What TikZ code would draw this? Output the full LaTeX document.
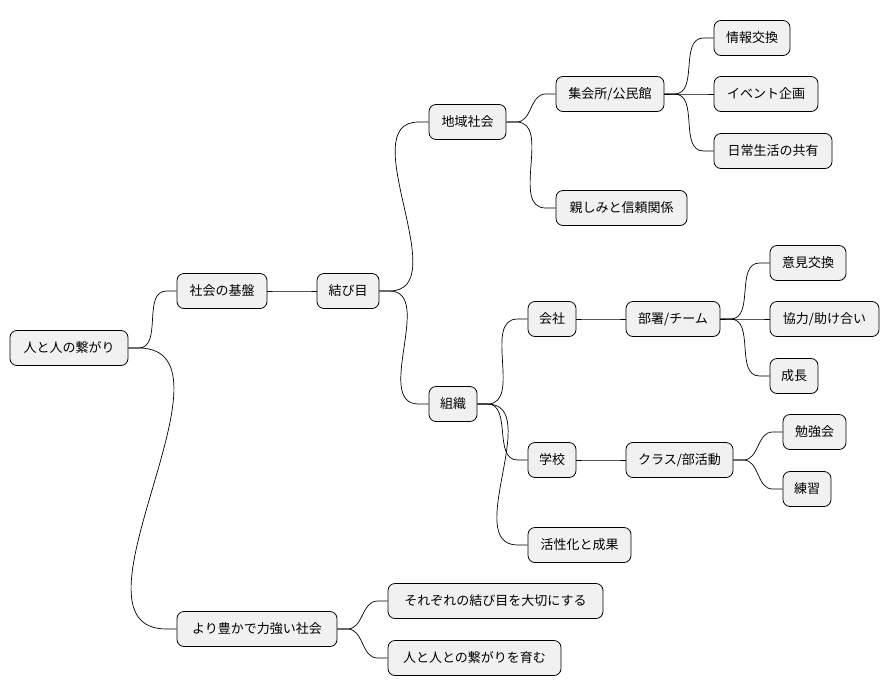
\documentclass[tikz,border=0pt]{standalone}
\usepackage{fontspec}
\setmainfont{Noto Sans CJK JP}
\usetikzlibrary{calc}
\tikzset{
  mm/.style={draw=black, line width=0.8pt, fill={rgb,255:red,241;green,241;blue,241}, rounded corners=7pt, minimum height=35pt, inner xsep=0pt, font=\fontsize{13}{15}\selectfont, anchor=center},
  ln/.style={line width=0.7pt}
}
\newcommand{\mmn}[5]{\node[mm, minimum width=#4pt] (#1) at (#2,#3) {#5};}
\newcommand{\lk}[2]{\draw[ln] (#1.east) -- ++(10pt,0) to[out=0,in=180] ($(#2.west)+(-10pt,0)$) -- (#2.west);}
\begin{document}
\begin{tikzpicture}[x=1pt,y=-1pt]
\useasboundingbox (0,0) rectangle (890,696);
\mmn{a}{69}{348}{118}{人と人の繋がり}
\mmn{b}{222}{291}{90}{社会の基盤}
\mmn{c}{348}{291}{62}{結び目}
\mmn{d}{467.5}{122}{77}{地域社会}
\mmn{e}{610}{94}{108}{集会所/公民館}
\mmn{f}{752}{38}{76}{情報交換}
\mmn{g}{766}{94}{104}{イベント企画}
\mmn{h}{773}{151}{118}{日常生活の共有}
\mmn{i}{621.5}{208}{131}{親しみと信頼関係}
\mmn{j}{453}{404}{48}{組織}
\mmn{k}{552}{319}{48}{会社}
\mmn{l}{673}{319}{94}{部署/チーム}
\mmn{m}{808}{263}{76}{意見交換}
\mmn{n}{824.5}{319}{109}{協力/助け合い}
\mmn{o}{794}{376}{48}{成長}
\mmn{p}{552}{460}{48}{学校}
\mmn{q}{679.5}{460}{107}{クラス/部活動}
\mmn{r}{814.5}{432}{63}{勉強会}
\mmn{s}{807}{489}{48}{練習}
\mmn{t}{579.5}{545}{103}{活性化と成果}
\mmn{u}{257}{629}{160}{より豊かで力強い社会}
\mmn{v}{495.5}{601}{215}{それぞれの結び目を大切にする}
\mmn{w}{474.5}{658}{173}{人と人との繋がりを育む}
\lk{a}{b}\lk{b}{c}\lk{c}{d}\lk{d}{e}\lk{e}{f}\lk{e}{g}\lk{e}{h}\lk{d}{i}
\lk{c}{j}\lk{j}{k}\lk{k}{l}\lk{l}{m}\lk{l}{n}\lk{l}{o}\lk{j}{p}\lk{p}{q}\lk{q}{r}\lk{q}{s}\lk{j}{t}
\lk{a}{u}\lk{u}{v}\lk{u}{w}
\end{tikzpicture}
\end{document}
